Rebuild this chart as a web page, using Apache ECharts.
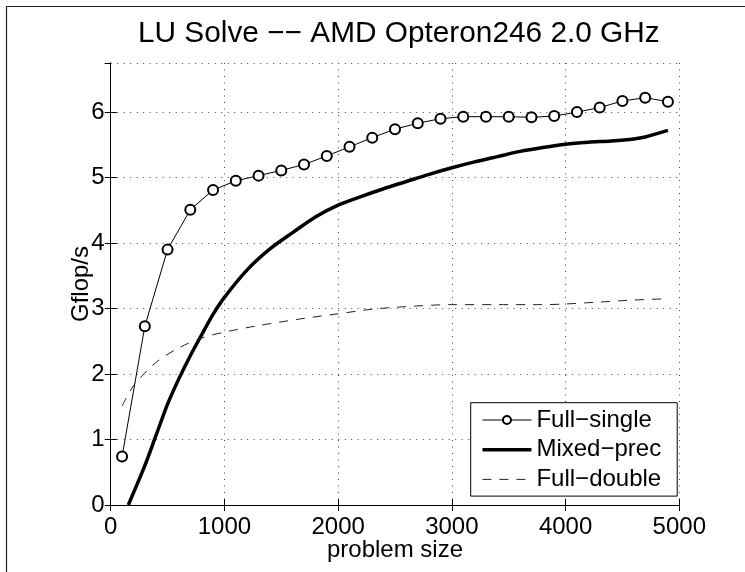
<!DOCTYPE html>
<html>
<head>
<meta charset="utf-8">
<script src="https://cdn.jsdelivr.net/npm/echarts@6/dist/echarts.min.js"></script>
<style>html,body{margin:0;padding:0;background:#fff}#c{width:745px;height:572px}</style>
</head>
<body>
<div id="c"></div>
<script>
const xTicks = [0, 1000, 2000, 3000, 4000, 5000];
const yTicks = [0, 1, 2, 3, 4, 5, 6];

const fullSingleX = [100, 300, 500, 700, 900, 1100, 1300, 1500, 1700, 1900, 2100, 2300, 2500, 2700, 2900, 3100, 3300, 3500, 3700, 3900, 4100, 4300, 4500, 4700, 4900];
const fullSingleY = [0.74, 2.73, 3.90, 4.51, 4.81, 4.95, 5.03, 5.11, 5.20, 5.33, 5.47, 5.61, 5.74, 5.83, 5.90, 5.93, 5.93, 5.93, 5.92, 5.94, 6.00, 6.07, 6.17, 6.22, 6.16];

const mixedX = [155, 300, 400, 500, 600, 700, 800, 900, 1000, 1200, 1400, 1600, 1800, 2000, 2200, 2400, 2600, 2800, 3000, 3200, 3400, 3600, 3800, 4000, 4200, 4400, 4600, 4700, 4900];
const mixedY = [0.00, 0.60, 1.07, 1.54, 1.93, 2.28, 2.60, 2.91, 3.17, 3.59, 3.91, 4.16, 4.40, 4.58, 4.71, 4.83, 4.94, 5.05, 5.15, 5.24, 5.32, 5.40, 5.46, 5.51, 5.54, 5.56, 5.59, 5.62, 5.72];

const fullDoubleX = [100, 200, 400, 600, 800, 1000, 1300, 1700, 2000, 2300, 2600, 3000, 3400, 3800, 4000, 4300, 4600, 4900];
const fullDoubleY = [1.51, 1.82, 2.18, 2.40, 2.55, 2.64, 2.74, 2.85, 2.92, 2.99, 3.03, 3.06, 3.06, 3.06, 3.07, 3.10, 3.13, 3.15];

const seriesNames = ['Full\u2212single', 'Mixed\u2212prec', 'Full\u2212double'];
const titleText = 'LU Solve \u2212\u2212 AMD Opteron246 2.0 GHz';
const xName = 'problem size';
const yName = 'Gflop/s';

function pairs(xs, ys) { return xs.map((x, i) => [x, ys[i]]); }

const FONT = '"Liberation Sans", Arial, Helvetica, sans-serif';
const chart = echarts.init(document.getElementById('c'), null, {renderer: 'canvas'});

const baseX = {
  type: 'value', min: xTicks[0], max: xTicks[xTicks.length - 1], interval: 1000,
  axisLine: {show: true, lineStyle: {color: '#000', width: 1}},
  axisTick: {show: true, inside: true, length: 6, lineStyle: {color: '#000'}},
  splitLine: {show: false}
};
const baseY = {
  type: 'value', min: yTicks[0], max: 6.75, interval: 1,
  axisLine: {show: true, lineStyle: {color: '#000', width: 1}},
  axisTick: {show: true, inside: true, length: 6, lineStyle: {color: '#000'}},
  splitLine: {show: false}
};

chart.setOption({
  animation: false,
  backgroundColor: '#fff',
  title: {
    text: titleText, left: 133, top: 14,
    textStyle: {fontFamily: FONT, fontSize: 29.8, lineHeight: 30, fontWeight: 'normal', color: '#000'}
  },
  grid: {left: 110.7, top: 63, width: 568.6, height: 442, containLabel: false},
  legend: {
    orient: 'vertical', left: 470.7, top: 402.7,
    itemWidth: 49, itemHeight: 10, itemGap: 5.7,
    padding: [5.3, 16, 4.7, 10],
    borderColor: '#000', borderWidth: 1, backgroundColor: '#fff', borderRadius: 0,
    textStyle: {fontFamily: FONT, fontSize: 24, color: '#000', lineHeight: 24},
    data: [
      {name: seriesNames[0], lineStyle: {width: 1}},
      {name: seriesNames[1], itemStyle: {opacity: 0}, lineStyle: {width: 3.5}},
      {name: seriesNames[2], itemStyle: {opacity: 0}, lineStyle: {width: 1}}
    ]
  },
  xAxis: [
    Object.assign({}, baseX, {
      position: 'bottom',
      name: xName, nameLocation: 'middle', nameGap: 33, nameMoveOverlap: false,
      nameTextStyle: {fontFamily: FONT, fontSize: 24, lineHeight: 24, color: '#000'},
      axisLabel: {show: true, margin: 10, fontFamily: FONT, fontSize: 24, lineHeight: 24, color: '#000',
        formatter: v => String(v)},
      splitLine: {show: true, lineStyle: {color: '#444', width: 1, type: [1, 5.5]}}
    }),
    Object.assign({}, baseX, {position: 'top', axisLabel: {show: false}})
  ],
  yAxis: [
    Object.assign({}, baseY, {
      position: 'left',
      name: yName, nameLocation: 'middle', nameGap: 17, nameRotate: 90, nameMoveOverlap: false,
      nameTextStyle: {fontFamily: FONT, fontSize: 24, lineHeight: 24, color: '#000'},
      axisLabel: {show: true, margin: 6, fontFamily: FONT, fontSize: 24, lineHeight: 24, color: '#000',
        showMaxLabel: false, formatter: v => String(v)},
      splitLine: {show: true, lineStyle: {color: '#444', width: 1, type: [1, 5.5]}}
    }),
    Object.assign({}, baseY, {position: 'right', axisLabel: {show: false}})
  ],
  series: [
    {
      name: seriesNames[0], type: 'line', xAxisIndex: 0, yAxisIndex: 0,
      data: pairs(fullSingleX, fullSingleY),
      symbol: 'emptyCircle', symbolSize: 10, showSymbol: true,
      lineStyle: {color: '#000', width: 1},
      itemStyle: {color: '#000', borderColor: '#000', borderWidth: 1},
      emphasis: {disabled: true}, z: 3
    },
    {
      name: seriesNames[1], type: 'line', xAxisIndex: 0, yAxisIndex: 0,
      data: pairs(mixedX, mixedY), symbol: 'none', smooth: 0.3,
      lineStyle: {color: '#000', width: 3.5},
      itemStyle: {color: '#000'},
      emphasis: {disabled: true}, z: 2
    },
    {
      name: seriesNames[2], type: 'line', xAxisIndex: 0, yAxisIndex: 0,
      data: pairs(fullDoubleX, fullDoubleY), symbol: 'none', smooth: 0.3,
      lineStyle: {color: '#222', width: 1, type: [9, 8]},
      itemStyle: {color: '#222'},
      emphasis: {disabled: true}, z: 2
    }
  ],
  graphic: [{
    type: 'rect', shape: {x: 6.5, y: 6.5, width: 900, height: 900},
    style: {fill: 'none', stroke: '#222', lineWidth: 1.2}, silent: true, z: 100
  }]
});
</script>
</body>
</html>
